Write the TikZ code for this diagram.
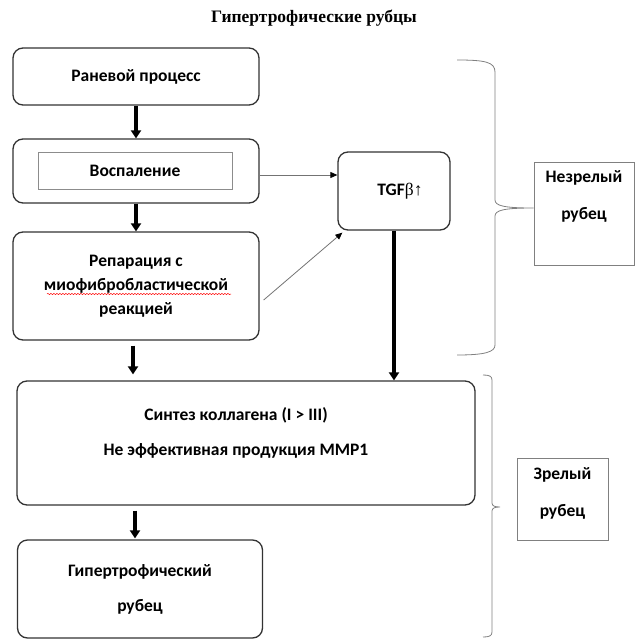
\documentclass[tikz,border=0pt]{standalone}
\usepackage{fontspec}
\setmainfont{Carlito}
\newfontfamily\titlefont{Liberation Serif}
\usetikzlibrary{arrows.meta}
\usetikzlibrary{calc}
\usetikzlibrary{decorations.pathmorphing}
\tikzset{
	stage/.style={draw=black!80, line width=1.3pt, rounded corners=10pt, align=center,
		font=\bfseries\fontsize{17.5}{24}\selectfont},
	stagetext/.style={align=center, font=\bfseries\fontsize{17.5}{35}\selectfont},
	innerbox/.style={draw=black!45, line width=0.8pt, font=\bfseries\fontsize{17.5}{24}\selectfont},
	notebox/.style={draw=black!50, line width=0.8pt},
	notetext/.style={align=center, font=\bfseries\fontsize{17.5}{37}\selectfont},
	fatarrow/.style={line width=3.8pt, -{Triangle[length=8pt,width=10pt]}},
	thinarrow/.style={draw=black!55, line width=0.8pt, -{Triangle[length=7pt,width=6pt,color=black]}},
	bracket/.style={draw=black!50, line width=0.8pt},
}

\begin{document}
\begin{tikzpicture}[x=1pt,y=-1pt]
	% page: 640 x 640, y runs downwards
	\useasboundingbox (0,0) rectangle (640,640);
	\node[font=\titlefont\bfseries\fontsize{17.5}{20}\selectfont] (title) at (314,18) {Гипертрофические рубцы};

	% left column
	\node[stage, minimum width=246pt, minimum height=57pt] (wound) at (136,76.5) {Раневой процесс};
	\node[stage, minimum width=246pt, minimum height=64pt] (infl) at (136,171) {};
	\node[innerbox, minimum width=194pt, minimum height=37pt] (inflbox) at (135,170.5) {Воспаление};
	\node[stage, minimum width=246pt, minimum height=108pt] (repair) at (136,286) {Репарация с\\миофибробластической\\реакцией};
	\draw[red, line width=0.5pt, decorate, decoration={snake, amplitude=0.6pt, segment length=3pt}] (47,294) -- (231,294);
	\node[stage, minimum width=112pt, minimum height=78pt] (tgf) at (394,191) {\hspace*{12pt}TGF{\titlefont\mdseries β↑}};
	\node[stage, minimum width=458pt, minimum height=124pt] (collagen) at (246,443) {};
	\node[stagetext] (collagentext) at (236,432.5) {Синтез коллагена (I > III)\\Не эффективная продукция MMP1};
	\node[stage, minimum width=245pt, minimum height=98pt, stagetext] (scar) at (140,589) {Гипертрофический\\рубец};

	% right column
	\node[notebox, minimum width=100pt, minimum height=103pt] (immature) at (584,213.5) {};
	\node[notetext] (immaturetext) at (584,196.5) {Незрелый\\рубец};
	\node[notebox, minimum width=91pt, minimum height=82pt] (mature) at (562.5,499) {};
	\node[notetext] (maturetext) at (562.5,493) {Зрелый\\рубец};

	% arrows
	\coordinate (inflout) at ([yshift=-4pt]infl.east);
	\coordinate (repairout) at ([xshift=4pt,yshift=-14pt]repair.east);
	\coordinate (tgfin) at ([xshift=5pt,yshift=-2pt]tgf.south west);
	\draw[fatarrow] (wound) -- (infl);
	\draw[fatarrow] (infl) -- (repair);
	\draw[fatarrow, shorten <=5pt, shorten >=6pt] ([xshift=-3pt]repair.south) -- ([xshift=-3pt]repair.south |- collagen.north);
	\draw[fatarrow] (tgf.south) -- (tgf.south |- collagen.north);
	\draw[fatarrow, shorten <=5pt, shorten >=1pt] ([xshift=-5pt]scar.north |- collagen.south) -- ([xshift=-5pt]scar.north);
	\draw[thinarrow] (inflout) -- (tgf.west |- inflout);
	\draw[thinarrow] (repairout) -- (tgfin);

	% braces
	\draw[bracket] (457,60) .. controls (485,60) and (495,62) .. (495,72) -- (495,200)
		.. controls (495,206) and (505,208) .. (immature.west |- 0,208)
		.. controls (505,208) and (495,210) .. (495,216) -- (495,345)
		.. controls (495,352) and (485,355) .. (457,355);
	\draw[bracket] (483,375) .. controls (489,375) and (492,376) .. (492,380) -- (492,503)
		.. controls (492,506) and (495,507) .. (500,507)
		.. controls (495,507) and (492,508) .. (492,511) -- (492,632)
		.. controls (492,636) and (489,637) .. (483,637);
\end{tikzpicture}
\end{document}
